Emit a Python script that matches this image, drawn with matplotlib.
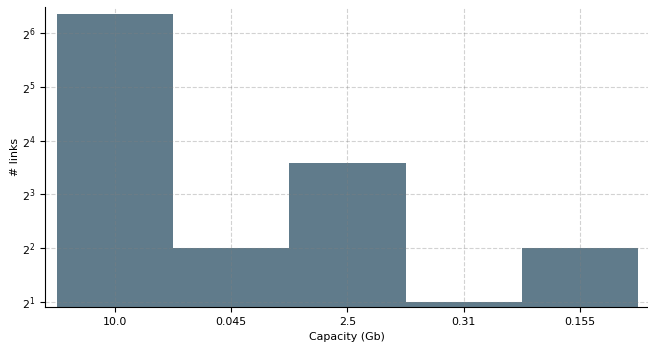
import matplotlib.pyplot as plt
from matplotlib.ticker import LogLocator, LogFormatterMathtext, NullLocator

capacidades = ['10.0', '0.045', '2.5', '0.31', '0.155']
enlaces = [82, 4, 12, 2, 4]

fig = plt.figure(figsize=(6.48, 3.44), dpi=100)
ax = fig.add_axes([45 / 648, 37 / 344, 603 / 648, 300 / 344])

ax.bar(range(len(capacidades)), enlaces, width=1.0, color='#607b8b', bottom=0)
ax.set_yscale('log', base=2)
ax.yaxis.set_major_locator(LogLocator(base=2))
ax.yaxis.set_major_formatter(LogFormatterMathtext(base=2))
ax.yaxis.set_minor_locator(NullLocator())
ax.set_ylim(1.875, 89.7)
ax.set_xlim(-0.602, 4.585)
ax.set_xticks(range(len(capacidades)))
ax.set_xticklabels(capacidades)

ax.grid(True, linestyle='--', color='grey', alpha=0.35, linewidth=0.8)
ax.spines['top'].set_visible(False)
ax.spines['right'].set_visible(False)
ax.tick_params(labelsize=7.9)
ax.set_xlabel('Capacity (Gb)', fontsize=7.9)
ax.set_ylabel('# links', fontsize=7.9, labelpad=1.5)

fig.savefig('out.png', dpi=100)
